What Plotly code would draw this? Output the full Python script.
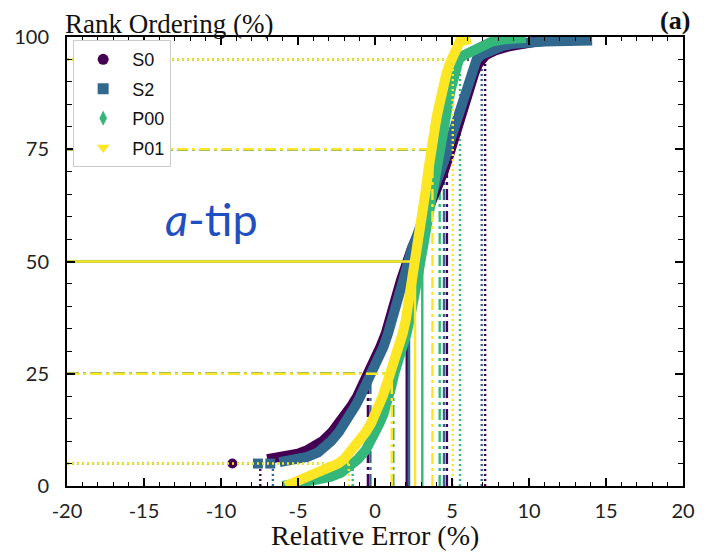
import plotly.graph_objects as go

# ---------------- data ----------------
X_RANGE = [-20, 20]
Y_RANGE = [0, 100]
X_TICKS = [-20, -15, -10, -5, 0, 5, 10, 15, 20]
X_TICKTEXT = ["-20", "-15", "-10", "-5", "0", "5", "10", "15", "20"]
Y_TICKS = [0, 25, 50, 75, 100]

SERIES = ["S0", "S2", "P00", "P01"]
COLORS = {"S0": "#440154", "S2": "#31688e", "P00": "#35b779", "P01": "#fde725"}
SYMBOLS = {"S0": "circle", "S2": "square", "P00": "diamond-tall", "P01": "triangle-down"}

# rank ordering (%) and relative error (%) of each sorted curve
S0_RANK = [6.0, 6.5, 7.2, 8, 9, 10, 12, 14, 16, 18, 20, 22, 25, 28, 31, 34, 37, 40, 43, 46, 50,
           53, 56, 60, 63, 66, 70, 73, 76, 80, 83, 86, 88, 90, 92, 94, 95, 96, 97, 98, 99, 99.6]
S0_ERR = [-7.0, -6.0, -5.0, -4.4, -3.85, -3.4, -2.8, -2.3, -1.9, -1.5, -1.15, -0.85, -0.45, -0.05,
          0.35, 0.7, 1.0, 1.2, 1.45, 1.7, 2.05, 2.4, 2.8, 3.3, 3.7, 4.05, 4.45, 4.75, 5.0, 5.35,
          5.65, 5.95, 6.1, 6.25, 6.45, 6.7, 6.9, 7.2, 7.8, 8.8, 10.5, 13.8]
S0_OUT_RANK = [5.0]
S0_OUT_ERR = [-9.26]

S2_RANK = [5.3, 5.8, 6.5, 7.5, 9, 10, 12, 14, 16, 18, 20, 22, 25, 28, 31, 34, 37, 40, 43, 46, 50,
           53, 56, 60, 63, 66, 70, 73, 76, 80, 83, 86, 88, 90, 92, 94, 95, 96, 97, 98, 98.5, 99, 99.2]
S2_ERR = [-6.2, -5.3, -4.4, -3.7, -3.1, -2.85, -2.35, -1.95, -1.6, -1.25, -0.95, -0.65, -0.2, 0.2,
          0.55, 0.85, 1.15, 1.4, 1.6, 1.85, 2.1, 2.4, 2.75, 3.2, 3.55, 3.9, 4.3, 4.55, 4.8, 5.15,
          5.45, 5.7, 5.85, 6.0, 6.2, 6.45, 6.6, 6.9, 7.5, 8.3, 9.0, 11.0, 14.1]
S2_OUT_RANK = [5.0, 5.0]
S2_OUT_ERR = [-7.6, -6.8]

P00_RANK = [0, 0.5, 1, 2, 3, 4, 5, 6, 8, 10, 12, 14, 16, 18, 20, 22, 25, 28, 31, 34, 37, 40, 43,
            46, 50, 53, 56, 60, 63, 66, 70, 73, 76, 80, 83, 86, 88, 90, 92, 94, 95, 96, 97, 98,
            99, 99.5, 99.8]
P00_ERR = [-6.0, -5.0, -4.2, -2.9, -2.2, -1.75, -1.4, -1.1, -0.6, -0.25, 0.05, 0.3, 0.55, 0.75,
           0.9, 1.05, 1.25, 1.55, 1.8, 2.05, 2.25, 2.45, 2.6, 2.75, 2.95, 3.1, 3.25, 3.4, 3.55,
           3.7, 3.85, 4.0, 4.15, 4.35, 4.55, 4.75, 4.9, 5.05, 5.2, 5.35, 5.45, 5.8, 6.3, 6.9,
           7.6, 8.4, 9.8]

P01_RANK = [0, 1, 2, 3, 4, 5, 6, 7, 8, 10, 12, 14, 16, 18, 20, 22, 25, 28, 31, 34, 37, 40, 43,
            46, 50, 53, 56, 60, 63, 66, 70, 73, 76, 80, 83, 86, 88, 90, 92, 94, 95, 96, 97, 98,
            99, 99.6]
P01_ERR = [-5.8, -5.1, -4.4, -3.6, -2.9, -2.4, -2.0, -1.75, -1.45, -1.0, -0.6, -0.25, 0.05, 0.3,
           0.5, 0.7, 1.0, 1.3, 1.55, 1.8, 2.0, 2.15, 2.3, 2.45, 2.6, 2.75, 2.9, 3.05, 3.2, 3.3,
           3.45, 3.55, 3.7, 3.9, 4.05, 4.2, 4.35, 4.5, 4.65, 4.85, 4.95, 5.05, 5.15, 5.3, 5.5, 6.2]

# percentile levels and the relative error at each level (reference lines)
PCT_LEVELS = [5, 25, 50, 75, 95]
S0_PCT = [-7.45, -0.46, 2.06, 4.67, 7.15]
S2_PCT = [-6.63, -0.30, 2.21, 4.48, 6.93]
P00_PCT = [-1.45, 1.19, 3.07, 4.20, 5.52]
P01_PCT = [-1.70, 1.09, 2.60, 3.73, 5.05]

CURVES = {"S0": (S0_ERR, S0_RANK), "S2": (S2_ERR, S2_RANK),
          "P00": (P00_ERR, P00_RANK), "P01": (P01_ERR, P01_RANK)}
OUTLIERS = {"S0": (S0_OUT_ERR, S0_OUT_RANK), "S2": (S2_OUT_ERR, S2_OUT_RANK)}
PCTS = {"S0": S0_PCT, "S2": S2_PCT, "P00": P00_PCT, "P01": P01_PCT}

# ---------------- styles ----------------
DASHES = {5: "2px,3px", 25: "12px,4px,3px,4px", 50: "solid", 75: "11px,4px,3px,4px", 95: "2px,3px"}
BAND_W = 10
REF_W = 2.4

fig = go.Figure()


def add_ref_lines(name):
    for lvl, val in zip(PCT_LEVELS, PCTS[name]):
        fig.add_trace(go.Scatter(
            x=[X_RANGE[0], val, None, val, val],
            y=[lvl, lvl, None, Y_RANGE[0], lvl],
            mode="lines", line=dict(color=COLORS[name], width=REF_W, dash=DASHES[lvl]),
            showlegend=False, hoverinfo="skip"))


def add_curve(name):
    xs, ys = CURVES[name]
    fig.add_trace(go.Scatter(x=xs, y=ys, mode="lines",
                             line=dict(color=COLORS[name], width=BAND_W),
                             showlegend=False, hoverinfo="skip"))
    if name in OUTLIERS:
        ox, oy = OUTLIERS[name]
        fig.add_trace(go.Scatter(x=ox, y=oy, mode="markers",
                                 marker=dict(symbol=SYMBOLS[name], size=10, color=COLORS[name]),
                                 showlegend=False, hoverinfo="skip"))


for s in ["S0", "S2", "P00"]:
    add_ref_lines(s)
for s in ["S0", "S2", "P00"]:
    add_curve(s)
add_ref_lines("P01")
add_curve("P01")

for s in SERIES:
    fig.add_trace(go.Scatter(x=[None], y=[None], mode="markers", name=s, legendgroup=s,
                             marker=dict(symbol=SYMBOLS[s], size=11, color=COLORS[s])))

TICK_FONT = dict(family="Lato, Carlito, sans-serif", size=20, color="#222222")
SERIF = "Liberation Serif, DejaVu Serif, serif"

axis_common = dict(showgrid=False, zeroline=False, showline=True, linecolor="black", linewidth=2,
                   mirror="allticks", ticks="inside", ticklen=8, tickwidth=1.5, tickcolor="black",
                   tickfont=TICK_FONT)

fig.update_xaxes(range=X_RANGE, tickvals=X_TICKS, ticktext=X_TICKTEXT, ticklabelstandoff=6,
                 minor=dict(dtick=1, tick0=0, ticks="inside", ticklen=4, tickwidth=1.2,
                            tickcolor="black"), **axis_common)
fig.update_yaxes(range=Y_RANGE, tickvals=Y_TICKS, ticklabelstandoff=12,
                 minor=dict(dtick=5, tick0=0, ticks="inside", ticklen=5, tickwidth=1.2,
                            tickcolor="black"), **axis_common)

fig.update_layout(
    width=707, height=552,
    margin=dict(l=67, r=15, t=37, b=66),
    paper_bgcolor="white", plot_bgcolor="white",
    showlegend=True,
    legend=dict(x=0.01, y=0.993, xanchor="left", yanchor="top", bgcolor="white",
                bordercolor="#cccccc", borderwidth=1, tracegroupgap=3, itemwidth=48,
                font=dict(family="Liberation Sans, Arial, sans-serif", size=18, color="#111111")),
    annotations=[
        dict(text="Rank Ordering (%)", xref="paper", yref="paper", x=0, y=1, xanchor="left",
             yanchor="bottom", xshift=-4, yshift=-4, showarrow=False,
             font=dict(family=SERIF, size=27, color="#111111")),
        dict(text="<b>(a)</b>", xref="paper", yref="paper", x=1, y=1, xanchor="right",
             yanchor="bottom", xshift=9, yshift=0, showarrow=False,
             font=dict(family=SERIF, size=26, color="#111111")),
        dict(text="Relative Error (%)", xref="paper", yref="paper", x=0.5, y=0, xanchor="center",
             yanchor="top", yshift=-32, showarrow=False,
             font=dict(family=SERIF, size=28, color="#111111")),
        dict(text="<i>a</i>-tip", xref="paper", yref="paper", x=0.234, y=0.595, xanchor="center",
             yanchor="middle", showarrow=False,
             font=dict(family="Lato, sans-serif", size=45, color="#1f4fc0")),
    ],
)

fig.write_html("out.html")
